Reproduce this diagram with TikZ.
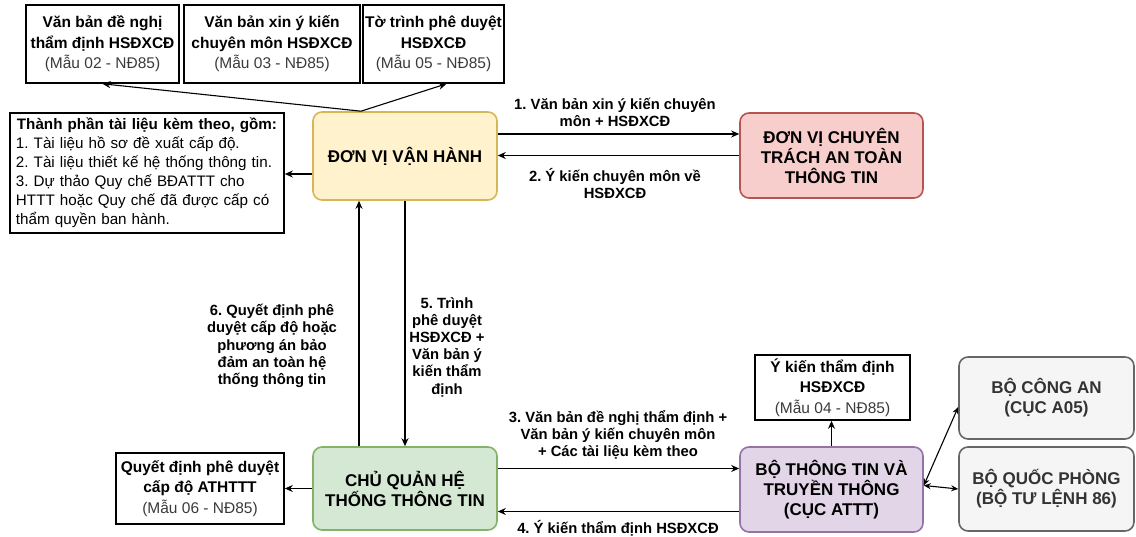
\documentclass[tikz,border=0pt]{standalone}
\usepackage{fontspec}
\setmainfont{Liberation Sans}
\usetikzlibrary{arrows.meta}

\definecolor{vhfill}{HTML}{FFF2CC}
\definecolor{vhdraw}{HTML}{D6B656}
\definecolor{ctfill}{HTML}{F8CECC}
\definecolor{ctdraw}{HTML}{B85450}
\definecolor{cqfill}{HTML}{D5E8D4}
\definecolor{cqdraw}{HTML}{82B366}
\definecolor{btfill}{HTML}{E1D5E7}
\definecolor{btdraw}{HTML}{9673A6}
\definecolor{grfill}{HTML}{F5F5F5}
\definecolor{grdraw}{HTML}{666666}
\definecolor{grtext}{HTML}{333333}
\definecolor{formtext}{HTML}{3A3A3A}

\newcommand{\formref}[1]{{\mdseries\color{formtext}#1}}
\frenchspacing

\begin{document}
\begin{tikzpicture}[x=1pt,y=-1pt,
  docbox/.style={draw=black, line width=1.6pt, fill=white, align=center,
    inner sep=2pt, font=\bfseries\fontsize{15.5}{20.5}\selectfont},
  mainbox/.style={rounded corners=9pt, line width=1.6pt, align=center,
    inner sep=2pt, font=\bfseries\fontsize{17}{20}\selectfont,
    minimum width=183pt, minimum height=85pt},
  lbl/.style={align=center, inner sep=0pt, font=\bfseries\fontsize{14.8}{17.2}\selectfont},
  arr/.style={-{Stealth[length=8pt,width=7pt]}, line width=1.1pt},
  dbl/.style={{Stealth[length=7pt,width=6pt]}-{Stealth[length=7pt,width=6pt]}, line width=1.1pt}
]
\useasboundingbox (0,0) rectangle (1136,537);

% documents produced by the operating unit
\node[docbox, minimum width=153pt, minimum height=78pt] (d1) at (102.5,44)
  {Văn bản đề nghị\\thẩm định HSĐXCĐ\\\formref{(Mẫu 02 - NĐ85)}};
\node[docbox, minimum width=176pt, minimum height=78pt] (d2) at (272,44)
  {Văn bản xin ý kiến\\chuyên môn HSĐXCĐ\\\formref{(Mẫu 03 - NĐ85)}};
\node[docbox, minimum width=131pt, minimum height=78pt] (d3) at (433.5,44)
  {Tờ trình phê duyệt\\HSĐXCĐ\\\formref{(Mẫu 05 - NĐ85)}};

% list of attached documents
\node[draw=black, line width=1.6pt, fill=white, text width=262pt, align=left,
  inner xsep=6pt, inner ysep=2pt, minimum height=120pt,
  font=\fontsize{15.2}{19}\selectfont] (info) at (147,173) {%
  \makebox[\linewidth][c]{\bfseries Thành phần tài liệu kèm theo, gồm:}\\
  1. Tài liệu hồ sơ đề xuất cấp độ.\\
  2. Tài liệu thiết kế hệ thống thông tin.\\
  \makebox[\linewidth][s]{3. Dự thảo Quy chế BĐATTT cho}\\
  \makebox[\linewidth][s]{HTTT hoặc Quy chế đã được cấp có}\\
  thẩm quyền ban hành.};

% main actors
\node[mainbox, fill=vhfill, draw=vhdraw, minimum width=184pt, minimum height=88pt] (vh) at (405,156)
  {ĐƠN VỊ VẬN HÀNH};
\node[mainbox, fill=ctfill, draw=ctdraw] (ct) at (831.5,155.5)
  {ĐƠN VỊ CHUYÊN\\TRÁCH AN TOÀN\\THÔNG TIN};
\node[mainbox, fill=cqfill, draw=cqdraw, minimum width=184pt, minimum height=83pt] (cq) at (405,488.5)
  {CHỦ QUẢN HỆ\\THỐNG THÔNG TIN};
\node[mainbox, fill=btfill, draw=btdraw] (bt) at (831.5,489.5)
  {BỘ THÔNG TIN VÀ\\TRUYỀN THÔNG\\(CỤC ATTT)};
\node[mainbox, fill=grfill, draw=grdraw, text=grtext, minimum width=175pt, minimum height=82pt] (ca) at (1046.5,398)
  {BỘ CÔNG AN\\(CỤC A05)};
\node[mainbox, fill=grfill, draw=grdraw, text=grtext, minimum width=175pt, minimum height=84pt] (qp) at (1046.5,489)
  {BỘ QUỐC PHÒNG\\(BỘ TƯ LỆNH 86)};

% outputs of the owner and of the ministry
\node[docbox, minimum width=168pt, minimum height=71pt] (qd) at (200,488.5)
  {Quyết định phê duyệt\\cấp độ ATHTTT\\\formref{(Mẫu 06 - NĐ85)}};
\node[docbox, minimum width=155pt, minimum height=65pt] (yk) at (832.5,387.5)
  {Ý kiến thẩm định\\HSĐXCĐ\\\formref{(Mẫu 04 - NĐ85)}};

% connectors
\draw[arr] ([xshift=-44pt]vh.north) -- (d1.south);
\draw[arr] ([xshift=-44pt]vh.north) -- ([xshift=13pt]d3.south);
\draw[arr] ([yshift=-18pt]vh.west) -- ([yshift=-18pt]vh.west -| info.east);
\draw[arr] ([yshift=22pt]vh.east) -- ([yshift=22pt]vh.east -| ct.west);
\draw[arr] (ct.west) -- (ct.west -| vh.east);
\draw[arr] ([xshift=-46pt]cq.north) -- ([xshift=-46pt]vh.south);
\draw[arr] (vh.south) -- (cq.north);
\draw[arr] (cq.west) -- (qd.east);
\draw[arr] ([yshift=20pt]cq.east) -- ([yshift=20pt]cq.east -| bt.west);
\draw[arr] ([yshift=-22pt]bt.west) -- ([yshift=-22pt]bt.west -| cq.east);
\draw[arr] (bt.north) -- (yk.south -| bt.north);
\draw[dbl] ([yshift=4pt]bt.east) -- ([yshift=-9pt]ca.west);
\draw[dbl] ([yshift=4pt]bt.east) -- (qp.west);

% connector labels
\node[lbl] (l1) at (615,112) {1. Văn bản xin ý kiến chuyên\\môn + HSĐXCĐ};
\node[lbl] (l2) at (615,183.5) {2. Ý kiến chuyên môn về\\HSĐXCĐ};
\node[lbl] (l6) at (272,346) {6. Quyết định phê\\duyệt cấp độ hoặc\\phương án bảo\\đảm an toàn hệ\\thống thông tin};
\node[lbl] (l5) at (447,347) {5. Trình\\phê duyệt\\HSĐXCĐ +\\Văn bản ý\\kiến thẩm\\định};
\node[lbl] (l3) at (618,435) {3. Văn bản đề nghị thẩm định +\\Văn bản ý kiến chuyên môn\\+ Các tài liệu kèm theo};
\node[lbl] (l4) at (618,528) {4. Ý kiến thẩm định HSĐXCĐ};
\end{tikzpicture}
\end{document}
